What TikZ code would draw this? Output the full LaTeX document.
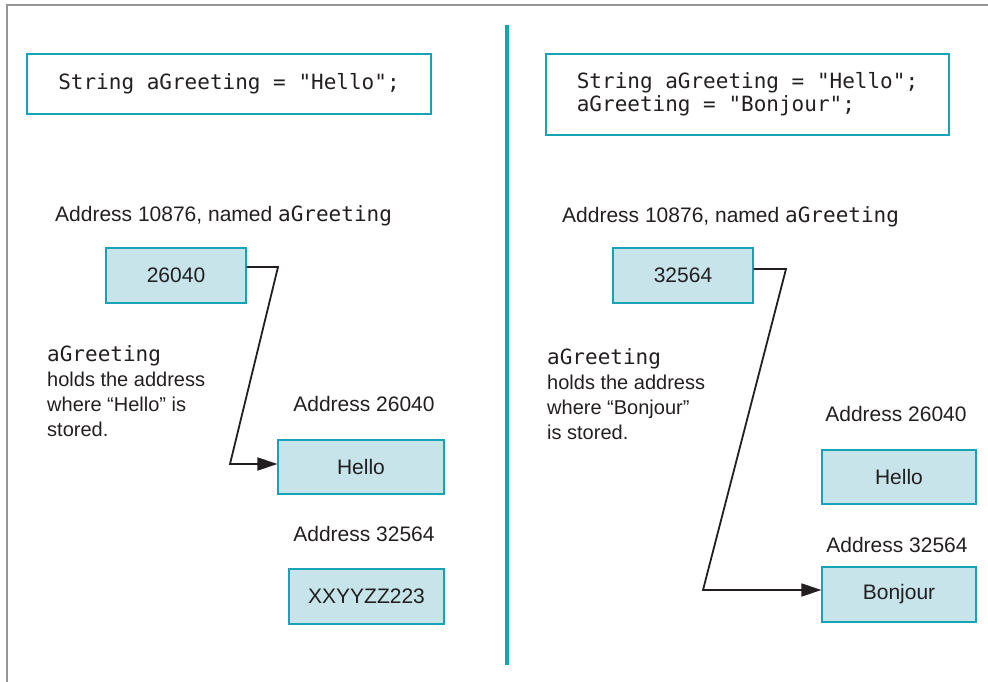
\documentclass[tikz,border=0pt]{standalone}
\usepackage{fontspec}
\setmainfont{Liberation Sans}
\setmonofont[Scale=1.05]{DejaVu Sans Mono}
\usepackage{xcolor}
\usetikzlibrary{arrows.meta}
\usetikzlibrary{positioning}
\definecolor{tealline}{RGB}{22,163,181}
\definecolor{cellfill}{RGB}{198,228,234}
\definecolor{inkgray}{RGB}{35,31,32}
\definecolor{framegray}{RGB}{150,150,150}
\newcommand{\varname}[1]{{\fontsize{20}{25}\selectfont\ttfamily #1}}
\tikzset{
  cell/.style={draw=tealline,fill=cellfill,line width=1.2pt,inner sep=0pt,text=inkgray,font=\fontsize{21}{24}\selectfont},
  codebox/.style={draw=tealline,line width=1.5pt,inner sep=0pt,align=left,text=inkgray,font=\fontsize{20}{23}\selectfont\ttfamily},
  lbl/.style={inner sep=0pt,text=inkgray,font=\fontsize{21}{25}\selectfont},
  note/.style={lbl,align=left,anchor=north west,font=\fontsize{20}{25}\selectfont},
  ptr/.style={draw=inkgray,line width=1.8pt,-{Triangle[length=20pt,width=13pt]}},
}

\begin{document}
\begin{tikzpicture}[x=1pt,y=-1pt]
\useasboundingbox (0,0) rectangle (988,682);
\draw[framegray,line width=2pt] (7,682) -- (7,5) -- (988,5);
\draw[tealline,line width=4pt] (507,25) -- (507,665);

\node[codebox,minimum width=404,minimum height=60] (codeL) at (229,84) {String aGreeting = "Hello";};
\node[lbl,anchor=base west] (addrL) at (55,221) {Address 10876, named \varname{aGreeting}};
\node[cell,minimum width=140,minimum height=55] (ptrL) at (176,275.5) {26040};
\node[note] (noteL) at (47,345) {\texttt{aGreeting}\\holds the address\\where “Hello” is\\stored.};
\node[lbl,anchor=base] (addrHL) at (364,411) {Address 26040};
\node[cell,minimum width=166,minimum height=54] (helloL) at (361,467) {Hello};
\node[lbl,anchor=base] (addrXL) at (364,541) {Address 32564};
\node[cell,minimum width=155,minimum height=55] (xyzL) at (366.5,596.5) {XXYYZZ223};
\coordinate (kinkL) at (278,267);
\coordinate (footL) at (230,464);
\draw[ptr] (ptrL.east |- kinkL) -- (kinkL) -- (footL) -- (footL -| helloL.west);

\node[codebox,minimum width=403,minimum height=81] (codeR) at (747.5,94.5) {String aGreeting = "Hello";\\aGreeting = "Bonjour";};
\node[lbl,anchor=base west] (addrR) at (562,222) {Address 10876, named \varname{aGreeting}};
\node[cell,minimum width=140,minimum height=55] (ptrR) at (683,275.5) {32564};
\node[note] (noteR) at (547,348) {\texttt{aGreeting}\\holds the address\\where “Bonjour”\\is stored.};
\node[lbl,anchor=base] (addrHR) at (896,421) {Address 26040};
\node[cell,minimum width=154,minimum height=54] (helloR) at (899,477) {Hello};
\node[lbl,anchor=base] (addrBR) at (897,552) {Address 32564};
\node[cell,minimum width=154,minimum height=55] (bonR) at (899,594.5) {Bonjour};
\coordinate (kinkR) at (786,269);
\coordinate (footR) at (703,590);
\draw[ptr] (ptrR.east |- kinkR) -- (kinkR) -- (footR) -- (footR -| bonR.west);
\end{tikzpicture}
\end{document}
